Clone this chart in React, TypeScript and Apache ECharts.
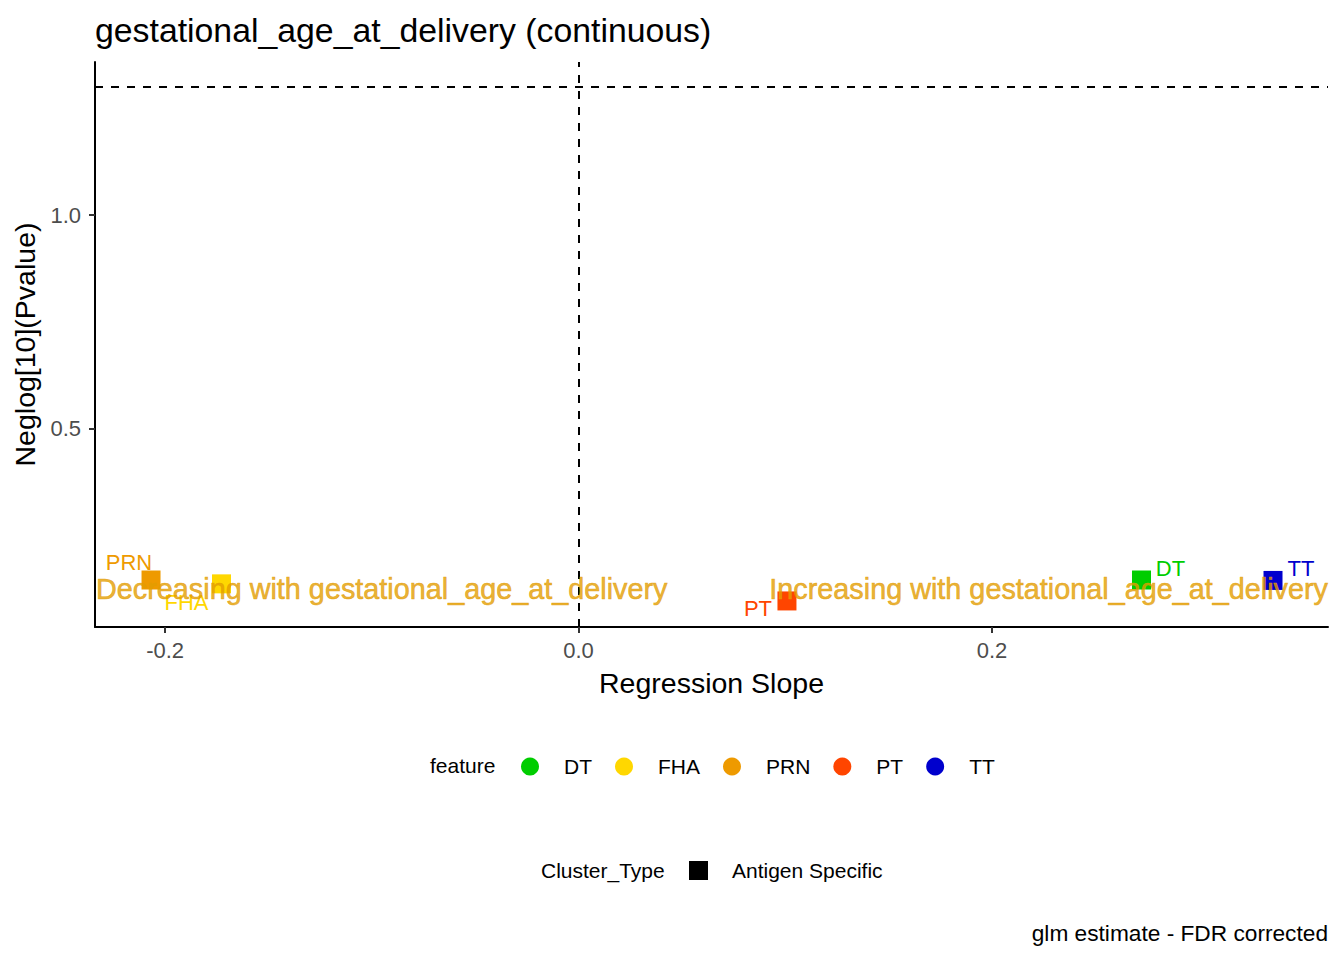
import React, { useEffect, useRef } from "react";
import * as echarts from "echarts";

// ---- data ----
const FEATURES = ["DT", "FHA", "PRN", "PT", "TT"];
const SLOPES = [0.2723, -0.1727, -0.2068, 0.1008, 0.3359];
const NEGLOG_P = [0.146, 0.137, 0.146, 0.097, 0.145];
const FEATURE_COLORS = ["#00CD00", "#FFD700", "#EE9A00", "#FF4500", "#0000CD"];
const X_TICKS = [-0.2, 0.0, 0.2];
const Y_TICKS = [0.5, 1.0];
const X_RANGE = [-0.2339, 0.3625];
const Y_RANGE = [0.036, 1.3586];
const SIG_LINE = 1.301; // -log10(0.05)
const ZERO_LINE = 0;
const ANNOT_Y = 0.125;
const ANNOT_LEFT = "Decreasing with gestational_age_at_delivery";
const ANNOT_RIGHT = "Increasing with gestational_age_at_delivery";
const TITLE = "gestational_age_at_delivery (continuous)";
const X_NAME = "Regression Slope";
const Y_NAME = "Neglog[10](Pvalue)";
const CAPTION = "glm estimate - FDR corrected";
const LEGEND1_TITLE = "feature";
const LEGEND2_TITLE = "Cluster_Type";
const LEGEND2_ITEM = "Antigen Specific";

// ---- styling (label offsets mimic ggrepel placement) ----
const LABEL_OFFSETS: Record<string, [number, number]> = {
  DT: [29, -12],
  FHA: [-35, 19],
  PRN: [-22, -18],
  PT: [-29, 8],
  TT: [28, -12],
};

const FONT = "'Liberation Sans', Arial, sans-serif";
const ANNOT_COLOR = "#E39D00";

export default function App() {
  const ref = useRef<HTMLDivElement>(null);

  useEffect(() => {
    document.body.style.margin = "0";
    if (!ref.current) return;
    const chart = echarts.init(ref.current, undefined, { renderer: "svg" });

    const pointSeries = FEATURES.map((f, i) => ({
      name: f,
      type: "scatter",
      symbol: "rect",
      symbolSize: 19,
      z: 3,
      itemStyle: { color: FEATURE_COLORS[i], opacity: 1 },
      data: [[SLOPES[i], NEGLOG_P[i]]],
      label: {
        show: true,
        position: "inside",
        formatter: f,
        offset: LABEL_OFFSETS[f],
        color: FEATURE_COLORS[i],
        fontSize: 22,
        fontFamily: FONT,
      },
    }));

    const annotLabel = {
      show: true,
      color: ANNOT_COLOR,
      textBorderColor: ANNOT_COLOR,
      textBorderWidth: 0.6,
      fontSize: 28.8,
      fontFamily: FONT,
    };

    const option: any = {
      animation: false,
      backgroundColor: "#fff",
      textStyle: { fontFamily: FONT },
      title: {
        text: TITLE,
        left: 90,
        top: 8,
        textStyle: { fontSize: 33.8, fontWeight: "normal", color: "#000", fontFamily: FONT },
      },
      grid: { left: 95, right: 16, top: 62, bottom: 333, containLabel: false },
      xAxis: {
        type: "value",
        min: X_RANGE[0],
        max: X_RANGE[1],
        name: X_NAME,
        nameLocation: "middle",
        nameGap: 41,
        nameTextStyle: { fontSize: 28.5, color: "#000", fontFamily: FONT },
        axisLine: { onZero: false, lineStyle: { color: "#000", width: 2 } },
        axisTick: { show: true, length: 6, customValues: X_TICKS, lineStyle: { color: "#333", width: 2 } },
        axisLabel: {
          customValues: X_TICKS,
          formatter: (v: number) => v.toFixed(1),
          color: "#4D4D4D",
          fontSize: 22,
          margin: 12,
          fontFamily: FONT,
        },
        splitLine: { show: false },
      },
      yAxis: {
        type: "value",
        min: Y_RANGE[0],
        max: Y_RANGE[1],
        name: Y_NAME,
        nameLocation: "middle",
        nameRotate: 90,
        nameGap: 52,
        nameTextStyle: { fontSize: 28.5, color: "#000", fontFamily: FONT },
        axisLine: { onZero: false, lineStyle: { color: "#000", width: 2 } },
        axisTick: { show: true, length: 6, customValues: Y_TICKS, lineStyle: { color: "#333", width: 2 } },
        axisLabel: {
          customValues: Y_TICKS,
          formatter: (v: number) => v.toFixed(1),
          color: "#4D4D4D",
          fontSize: 22,
          margin: 14,
          fontFamily: FONT,
        },
        splitLine: { show: false },
      },
      legend: {
        data: FEATURES,
        icon: "circle",
        orient: "horizontal",
        left: 521,
        top: 756,
        itemWidth: 58,
        itemHeight: 18,
        itemGap: 23,
        padding: 0,
        selectedMode: false,
        textStyle: { fontSize: 21, color: "#000", fontFamily: FONT },
      },
      graphic: [
        {
          type: "text",
          left: 430,
          top: 766 - 11,
          style: { text: LEGEND1_TITLE, fontSize: 21, fill: "#000", fontFamily: FONT },
        },
        {
          type: "text",
          left: 541,
          top: 871 - 11,
          style: { text: LEGEND2_TITLE, fontSize: 21, fill: "#000", fontFamily: FONT },
        },
        {
          type: "rect",
          shape: { x: 689, y: 861, width: 19, height: 19 },
          style: { fill: "#000" },
        },
        {
          type: "text",
          left: 732,
          top: 871 - 11,
          style: { text: LEGEND2_ITEM, fontSize: 21, fill: "#000", fontFamily: FONT },
        },
        {
          type: "text",
          right: 16,
          top: 933 - 12,
          style: { text: CAPTION, fontSize: 22.7, fill: "#000", fontFamily: FONT },
        },
      ],
      series: [
        {
          name: "_lines",
          type: "scatter",
          data: [],
          silent: true,
          markLine: {
            silent: true,
            symbol: "none",
            animation: false,
            label: { show: false },
            lineStyle: { color: "#000", type: [8, 8], width: 2 },
            data: [{ xAxis: ZERO_LINE }, { yAxis: SIG_LINE }],
          },
        },
        ...pointSeries,
        {
          name: "_annotLeft",
          type: "scatter",
          silent: true,
          clip: false,
          z: 5,
          symbolSize: 0,
          data: [[X_RANGE[0], ANNOT_Y]],
          label: { ...annotLabel, position: "right", distance: 1, formatter: ANNOT_LEFT },
        },
        {
          name: "_annotRight",
          type: "scatter",
          silent: true,
          clip: false,
          z: 5,
          symbolSize: 0,
          data: [[X_RANGE[1], ANNOT_Y]],
          label: { ...annotLabel, position: "left", distance: 0, formatter: ANNOT_RIGHT },
        },
      ],
    };

    chart.setOption(option);
    return () => chart.dispose();
  }, []);

  return <div ref={ref} style={{ width: 1344, height: 960 }} />;
}
